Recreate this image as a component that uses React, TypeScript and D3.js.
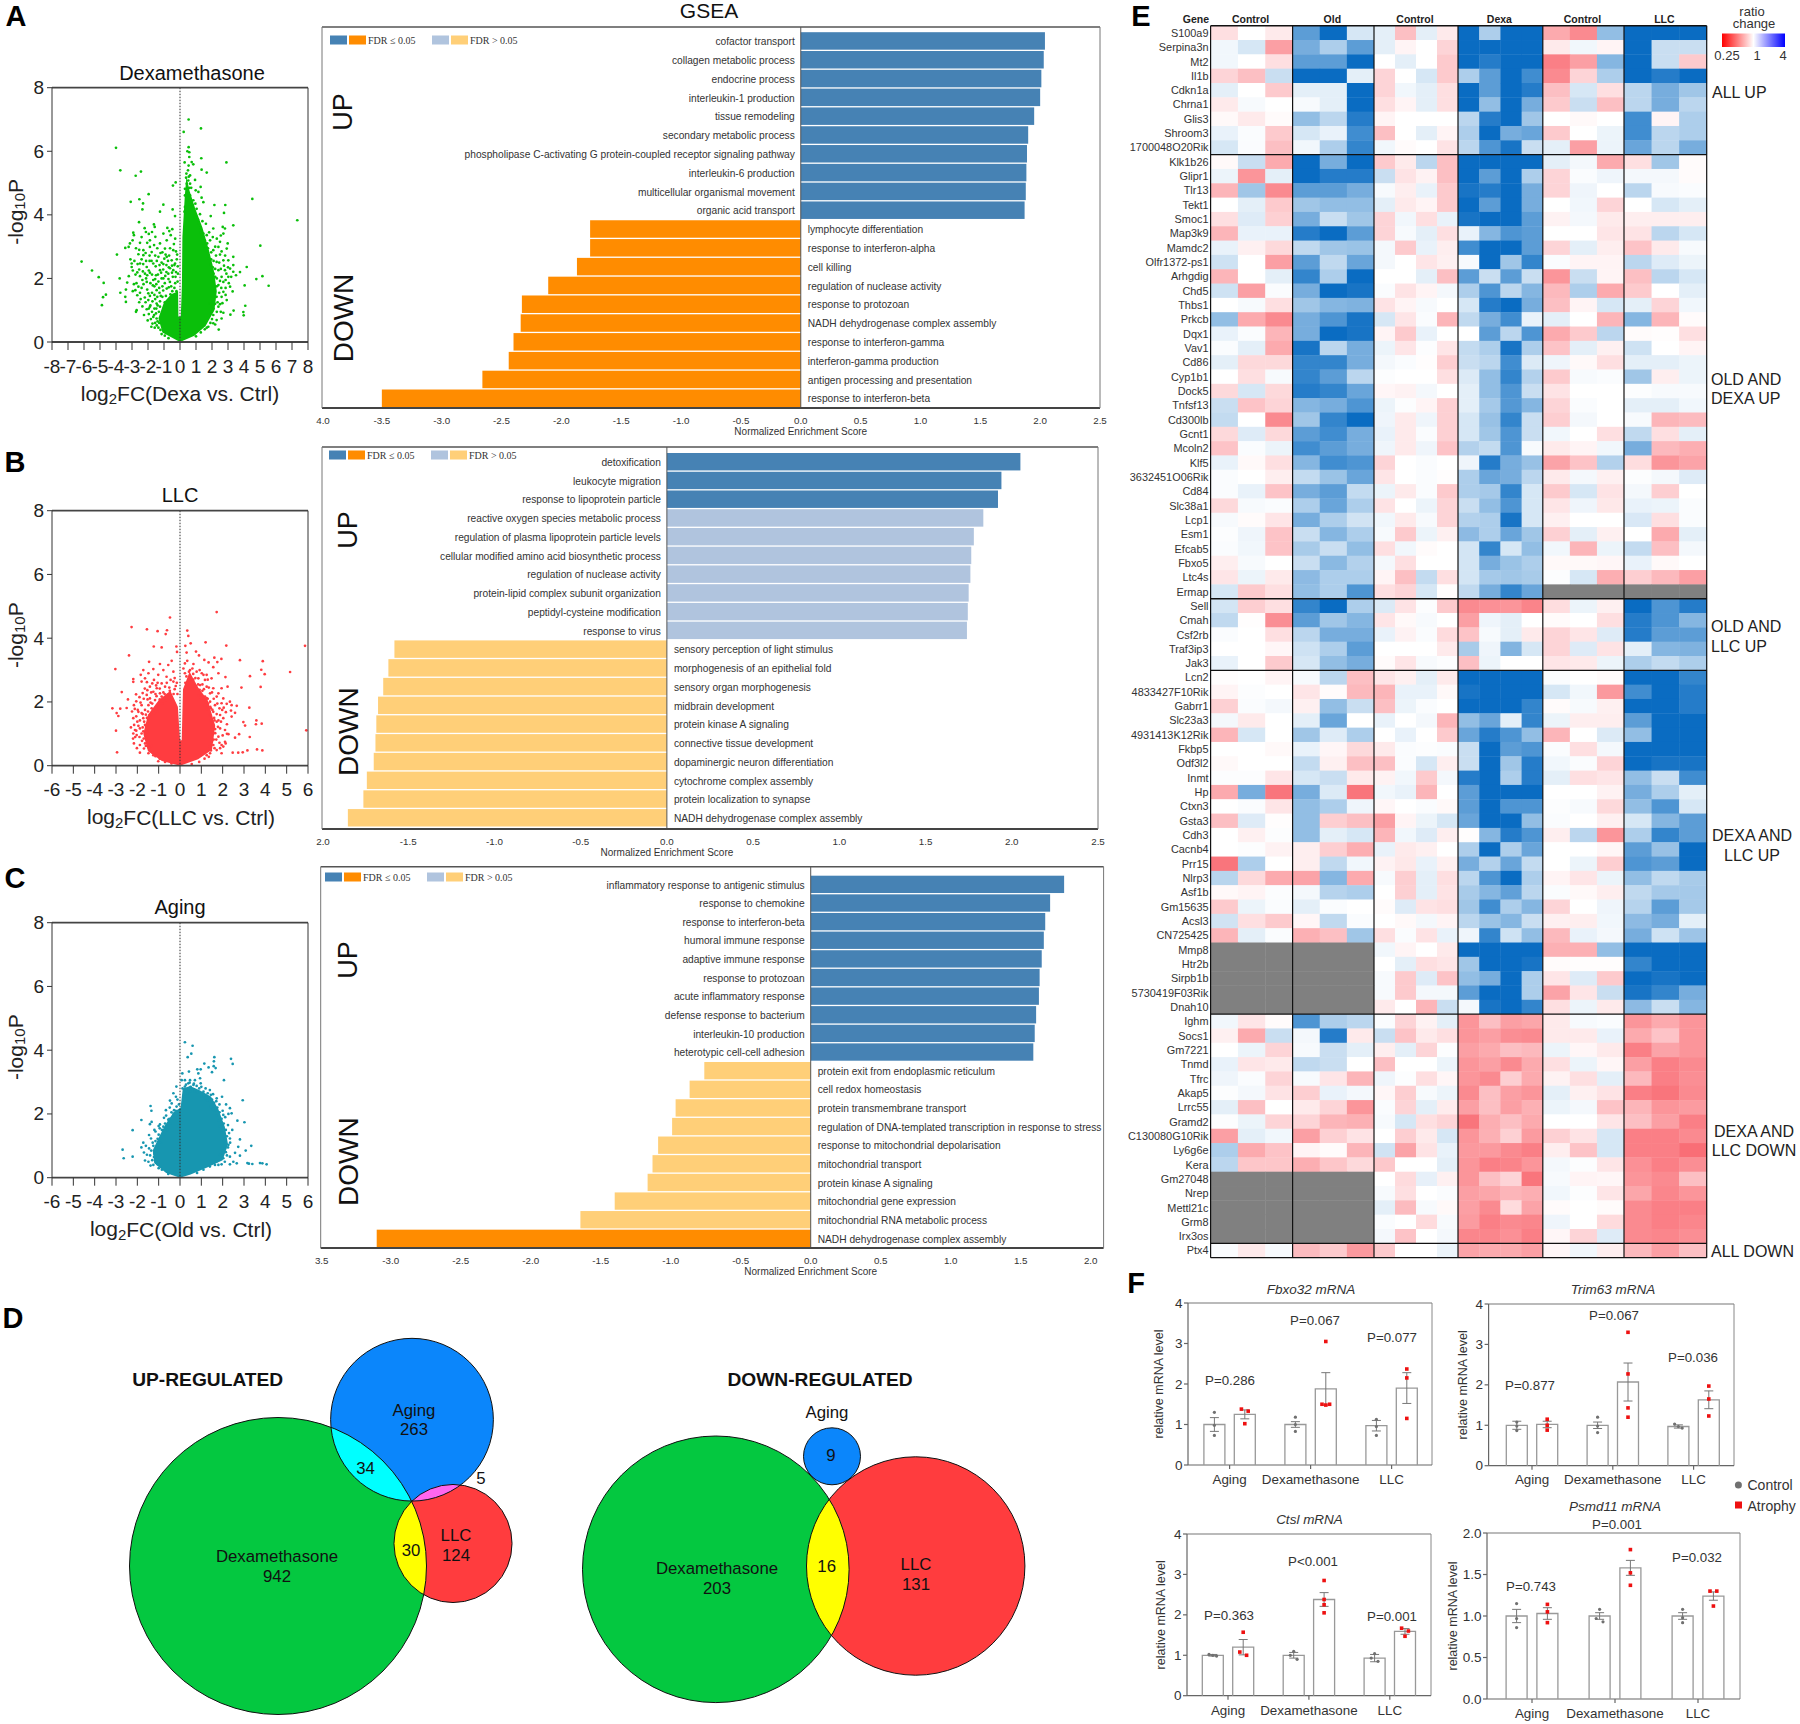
import React from "react";
import * as d3 from "d3";

const SANS = "'Liberation Sans', Arial, sans-serif";
const SERIF = "'Liberation Serif', 'Times New Roman', serif";

type P = [number, number];

// ---------- Volcano data (log2FC, -log10P) ----------
const dexaOutliers: P[] = [[.54,7.0],[1.31,6.72],[.23,6.61],[-4.0,6.11],[-3.73,5.4],[-2.44,5.36],[-2.77,5.23],[2.9,5.65],[1.33,5.78],[1.35,5.42],[1.67,5.33],[4.52,4.5],[7.33,3.83],[3.33,3.67],[5.02,3.03],[-1.96,4.65],[-3.08,4.41],[-2.54,4.49],[-2.31,4.36],[-2.35,4.17],[-1.04,4.32],[-1.25,4.1],[-.46,4.17],[-.31,3.96],[-2.56,3.77],[-.27,5.02],[-.44,4.92],[2.15,4.31],[2.83,4.31],[2.75,4.06],[1.92,3.96],[-6.15,2.53],[-5.5,2.25],[-5.08,2.04],[-4.77,1.86],[-4.63,1.49],[-4.81,1.41],[-4.88,1.16],[-3.94,2.75],[-3.77,2.0],[-3.73,1.55],[-3.38,1.65],[-3.3,1.87],[-3.2,2.07],[-3.42,1.42],[-3.38,1.26],[4.17,2.36],[3.75,2.2],[5.15,2.07],[4.77,1.98],[5.54,1.77],[4.04,1.78],[4.08,1.14],[3.96,.94],[3.98,.84],[3.35,.99],[3.15,.86],[2.42,.39]];
const dexaLeft: P[] = [[-2.21,3.58],[-1.63,3.7],[-1.58,3.62],[-.79,3.59],[-.67,3.49],[-2.92,3.44],[-2.88,3.36],[-2.13,3.46],[-1.75,3.46],[-2.96,3.2],[-3.13,3.1],[-3.21,2.99],[-3.42,2.96],[-2.5,3.12],[-1.88,3.2],[-1.54,3.31],[-1.04,3.41],[-.58,3.36],[-.38,3.08],[-.83,3.2],[-1.25,3.1],[-.94,2.94],[-1.88,2.99],[-2.29,2.89],[-2.6,2.76],[-2.29,2.73],[-1.77,2.83],[-1.35,2.68],[-.83,2.68],[-.42,2.89],[-3.02,2.47],[-3.02,2.36],[-2.5,2.47],[-2.08,2.36],[-1.67,2.47],[-1.04,2.45],[-.52,2.57],[-.31,2.47],[-2.67,2.19],[-2.5,2.07],[-2.19,2.15],[-1.88,2.18],[-1.25,2.26],[-.73,2.15],[-.42,2.26],[-2.88,1.82],[-2.6,1.74],[-2.08,1.89],[-1.67,1.95],[-1.04,2.0],[-.63,1.89],[-2.79,1.63],[-2.67,1.47],[-2.46,1.35],[-1.98,1.53],[-1.46,1.63],[-.83,1.68],[-1.98,1.32],[-1.88,1.11],[-2.08,1.03],[-1.46,1.21],[-2.71,1.0],[-2.75,.95],[-2.02,.68],[-1.46,.74],[-1.79,.48],[-1.35,.45],[-1.67,.79],[-1.25,1.11],[-.2,2.6],[-.25,2.2],[-.15,1.9],[-.3,1.85],[-.45,2.05],[-.55,1.75],[-.7,2.35],[-.85,2.2],[-.95,1.85],[-1.1,1.75],[-1.2,1.45],[-1.35,1.9],[-1.5,2.1],[-1.6,1.75],[-1.75,1.55],[-1.85,1.85],[-1.55,1.35],[-1.4,1.15],[-1.6,1.05],[-1.5,.9],[-1.75,.95],[-1.4,.65],[-1.55,.6],[-.25,2.85],[-.5,2.4],[-.75,2.55],[-.9,2.75],[-1.15,2.5],[-1.45,2.55],[-1.9,2.55],[-2.05,2.1],[-2.35,1.95],[-2.3,2.45],[-2.4,1.7],[-2.2,1.4],[-1.85,1.15],[-1.3,1.7],[-1.15,2.0],[-.6,1.5],[-.35,1.7],
[-1.42,2.95],[-1.62,3.05],[-2.05,3.12],[-2.4,3.3],[-1.95,3.4],[-1.1,2.82],[-.62,2.95],[-.3,3.25],[-.48,3.55],[-2.75,2.95],[-2.55,2.9],[-2.15,2.8],[-1.9,2.72],[-1.55,2.72],[-1.22,2.8],[-.98,2.62],[-.68,2.72],[-.18,2.75],[-3.1,2.6],[-2.85,2.55],[-2.65,2.45],[-2.4,2.6],[-2.12,2.55],[-1.78,2.55],[-1.52,2.38],[-1.28,2.42],[-1.05,2.28],[-.85,2.42],[-.62,2.32],[-.35,2.42],[-.14,2.38],[-2.95,2.25],[-2.78,2.12],[-2.55,2.28],[-2.32,2.22],[-2.12,2.0],[-1.95,2.25],[-1.75,2.12],[-1.55,1.98],[-1.38,2.12],[-1.18,2.18],[-.92,2.08],[-.72,1.98],[-.5,2.18],[-.28,2.05],[-.13,2.15],[-2.95,1.6],[-2.72,1.85],[-2.5,1.55],[-2.28,1.82],[-2.05,1.65],[-1.88,1.45],[-1.7,1.78],[-1.48,1.82],[-1.28,1.55],[-1.05,1.62],[-.88,1.45],[-.7,1.72],[-.48,1.6],[-.22,1.6],[-2.55,1.25],[-2.35,1.12],[-2.15,1.25],[-1.95,1.05],[-1.72,1.28],[-1.6,1.48],[-1.42,1.42],[-1.25,1.28],[-1.1,1.42],[-.95,1.25],[-2.25,.85],[-1.95,.88],[-1.82,.72],[-1.62,.85],[-1.48,1.05],[-1.32,.95],[-1.72,.58],[-1.58,.45],[-1.45,.52],[-1.3,.6],[-1.22,.38],[-1.15,.25],[-.95,.2],[-.72,.12]];
const dexaRight: P[] = [[1.29,3.58],[1.46,3.41],[2.08,3.57],[2.67,3.62],[2.81,3.57],[2.71,3.41],[1.67,3.36],[1.88,3.2],[2.5,3.15],[2.98,3.1],[2.4,2.99],[2.92,2.94],[2.08,2.89],[3.33,2.68],[3.02,2.57],[2.71,2.57],[3.33,2.42],[3.13,2.31],[2.29,2.52],[2.81,2.26],[2.4,2.26],[3.33,2.21],[3.5,2.1],[3.02,2.05],[2.6,2.05],[2.71,1.89],[3.13,1.74],[3.29,1.59],[2.4,1.79],[2.71,1.58],[2.29,1.42],[2.92,1.32],[2.5,1.19],[2.71,.92],[2.08,.85],[2.6,.74],[2.4,1.11],[1.77,.48],[2.08,.59],[1.67,.45],[2.29,.69],[1.88,1.21],[2.15,1.7],[2.2,2.05],[2.05,2.35],[1.95,2.6],[1.75,2.95],[1.55,3.2],[2.2,1.2],[2.0,1.45],
[1.15,3.75],[1.4,3.8],[1.62,3.72],[1.82,3.45],[2.05,3.3],[2.3,3.25],[2.55,3.35],[1.7,3.1],[2.2,3.0],[2.6,2.85],[1.55,2.95],[1.95,2.82],[2.25,2.72],[2.5,2.75],[2.82,2.72],[1.8,2.62],[2.1,2.55],[2.45,2.5],[2.75,2.4],[3.0,2.35],[1.9,2.42],[2.2,2.3],[2.55,2.3],[2.9,2.15],[3.2,2.05],[2.1,2.15],[2.3,2.0],[2.5,1.92],[2.85,1.95],[3.05,1.85],[2.08,1.9],[2.3,1.75],[2.58,1.7],[2.85,1.7],[2.15,1.55],[2.45,1.55],[2.6,1.42],[2.85,1.48],[2.12,1.32],[2.35,1.25],[2.65,1.22],[2.1,1.05],[2.3,.95],[2.55,.95],[2.0,.72],[2.2,.55],[1.9,.6],[1.55,.4],[1.3,.3],[1.0,.18],[2.0,.95],[1.95,1.2]];
const dexaColumn: P[] = [[.54,6.13],[.46,6.0],[.58,5.97],[.58,5.82],[.29,5.65],[.73,5.66],[.83,5.59],[.54,5.55],[.5,5.4],[.63,5.24],[.38,5.17],[.52,5.08],[.94,5.1],[.42,4.98],[.63,4.98],[1.29,4.88],[.31,4.82],[.58,4.85],[.98,4.77],[.31,4.61],[.63,4.61],[1.15,4.72],[1.35,4.54],[.46,4.46],[.83,4.46],[1.46,4.4],[.96,4.35],[1.04,4.19],[.31,4.25],[1.25,4.02],[1.04,3.93],[.4,5.3],[.55,5.2],[.7,4.85],[.48,4.7],[.78,4.3],[.62,4.32],[.28,4.1],[1.12,3.85],[.95,3.9],[1.3,3.45],[1.45,3.1]];
const dexaCore: P[] = [[0,0],[.9,.2],[1.6,.5],[2.15,1.0],[2.3,1.6],[2.1,2.3],[1.8,2.9],[1.4,3.6],[.95,4.2],[.6,4.75],[.4,5.2],[.3,4.6],[.22,3.9],[.15,3.3],[.12,1.8],[.05,.8],[-.1,.8],[-.12,1.6],[-.55,1.5],[-1.0,1.25],[-1.35,.75],[-1.1,.3]];

const llcOutliers: P[] = [[1.72,4.82],[-.47,4.65],[-2.27,4.35],[-1.55,4.28],[-1.05,4.22],[-.61,4.25],[-.67,4.13],[.34,4.24],[.39,4.07],[1.2,3.87],[.5,3.84],[.25,3.76],[2.17,3.77],[5.86,3.76],[-1.23,3.74],[-.86,3.71],[-.17,3.74],[-.14,3.57],[-2.39,3.46],[.75,3.58],[.31,3.55],[.89,3.46],[1.61,3.39],[1.94,3.35],[1.14,3.32],[2.81,3.31],[3.88,3.28],[1.34,3.24],[1.75,3.25],[3.81,3.01],[5.16,2.94],[-3.03,3.03],[3.97,2.87],[3.28,2.81],[2.13,2.78],[1.8,2.9],[1.56,3.09],[-2.19,2.72],[-2.19,2.63],[3.78,2.47],[2.88,2.45],[2.23,2.48],[-2.73,2.31],[-2.06,2.24],[-2.44,2.08],[-3.17,1.8],[-2.8,1.79],[-2.5,1.81],[-2.97,1.65],[-2.89,1.56],[3.25,1.82],[2.34,2.01],[2.66,1.88],[2.42,1.9],[2.19,1.94],[2.39,1.73],[2.58,1.66],[2.42,1.54],[2.97,1.37],[3.05,1.26],[3.58,1.42],[3.56,1.3],[3.83,1.32],[5.92,1.11],[3.27,.9],[2.77,.99],[2.58,.88],[2.27,.99],[-3.0,1.1],[-2.95,.42],[2.47,.41],[2.73,.41],[2.94,.42],[3.16,.48],[3.61,.51],[3.86,.48],[2.14,.7]];
const llcLeft: P[] = [[-1.45,3.26],[-.94,3.19],[-.55,3.16],[-.39,3.29],[-1.72,3.0],[-1.25,3.03],[-.78,3.0],[-.31,2.95],[-1.84,2.85],[-1.48,2.9],[-1.02,2.85],[-.63,2.79],[-.44,2.69],[-1.64,2.74],[-1.22,2.69],[-.86,2.58],[-.31,2.64],[-1.8,2.64],[-1.41,2.48],[-1.09,2.43],[-.7,2.48],[-1.53,2.37],[-1.25,2.32],[-.94,2.27],[-1.56,2.22],[-1.41,2.11],[-1.17,2.06],[-.86,2.17],[-.59,2.22],[-2.16,1.9],[-1.8,1.9],[-1.48,1.9],[-1.95,1.69],[-1.64,1.75],[-1.33,1.8],[-1.02,1.85],[-2.19,1.49],[-2.0,1.38],[-1.72,1.49],[-1.41,1.59],[-2.11,1.12],[-1.88,1.17],[-1.64,1.28],[-1.48,1.38],[-2.19,1.01],[-2.03,.96],[-1.8,1.01],[-1.56,.91],[-2.16,.7],[-1.88,.65],[-1.64,.7],[-1.48,.65],[-1.88,.41],[-1.69,.54],[-1.48,.39],[-1.25,.33],[-1.09,.39],[-1.6,1.6],[-1.75,1.2],[-1.55,1.5],[-1.7,.85],[-1.55,1.15],[-1.35,2.3],[-1.15,2.25],[-.72,2.25],[-.5,2.45],[-.25,2.4],[-1.05,2.6],[-.62,2.6],[-1.3,1.95],[-1.5,1.7],
[-.25,2.75],[-.15,2.6],[-.3,2.25],[-.5,2.1],[-.65,2.05],[-.85,1.95],[-1.05,1.7],[-1.2,1.65],[-1.35,1.6],[-1.5,1.5],[-1.6,1.25],[-1.55,1.05],[-1.62,.95],[-1.55,.8],[-1.45,.55],[-1.35,.62],[-1.15,.3],[-.95,.22],[-.7,.12],[-.4,.07],[-1.75,1.62],[-1.88,1.42],[-1.95,1.25],[-2.05,1.1],[-1.9,.9],[-1.78,.78],[-2.02,.55],[-1.98,1.75],[-1.85,1.98],[-1.7,2.1],[-1.65,2.42],[-1.75,2.28],[-1.9,2.15],[-2.05,2.02],[-1.55,2.62],[-1.3,2.58],[-1.12,2.52],[-.95,2.42],[-.78,2.3],[-.48,2.35],[-.2,2.5],[-.12,2.25],[-1.52,2.08],[-1.38,1.98],[-1.1,2.18],[-.95,2.08],[-.75,2.12],[-1.8,1.65],[-1.68,1.38],[-1.72,1.08],[-1.6,.62],[-1.3,.42],[-1.02,.14],[-2.15,1.28],[-2.2,.85],[-2.1,.9],[-2.3,1.2],[-2.05,1.55],[-2.25,1.7],[-2.12,1.78]];
const llcRight: P[] = [[.23,3.21],[.34,3.29],[.63,3.19],[.16,3.05],[.47,3.0],[.78,2.95],[1.02,2.9],[1.25,2.85],[.23,2.9],[.86,2.74],[1.17,2.69],[1.48,2.74],[.94,2.53],[1.25,2.48],[1.56,2.43],[1.95,2.43],[1.8,2.27],[1.41,2.27],[1.72,2.17],[2.03,2.11],[1.17,2.17],[1.41,2.01],[1.64,1.9],[1.95,1.96],[1.17,1.9],[1.56,1.69],[1.88,1.59],[2.03,1.49],[1.72,1.38],[1.41,1.59],[1.56,1.28],[1.88,1.17],[2.11,1.12],[1.56,1.01],[1.8,.91],[2.11,.75],[1.48,.86],[1.95,.65],[1.56,.65],[1.41,.6],[1.72,.49],[2.03,.6],[1.41,.39],[1.95,.39],[1.25,.33],[.75,2.5],[.62,2.7],[1.05,2.35],[.95,2.2],[1.3,2.1],[1.45,1.8],[1.6,1.5],[1.65,1.15],[1.5,.75],
[.25,2.6],[.3,2.8],[.42,2.95],[.62,2.88],[.72,2.75],[.85,2.55],[.92,2.38],[1.05,2.55],[1.12,2.4],[.88,2.2],[1.0,2.1],[1.25,2.12],[1.32,1.95],[1.25,1.78],[1.42,1.85],[1.52,1.75],[1.45,1.42],[1.5,1.2],[1.62,1.42],[1.72,1.62],[1.8,1.42],[1.78,1.22],[1.65,1.02],[1.7,.82],[1.58,.82],[1.62,.55],[1.45,.48],[1.35,.28],[1.15,.22],[.9,.12],[.55,.05],[1.92,1.38],[1.98,1.75],[1.85,1.8],[1.75,1.95],[1.58,2.1],[1.5,2.3],[1.35,2.45],[1.3,2.7],[1.1,2.85],[.92,3.0],[.58,3.05],[2.0,.95],[1.85,.72],[1.88,.55],[2.2,1.0],[2.2,1.3],[2.15,1.68],[2.05,1.82]];
const llcCore: P[] = [[0,0],[-.85,.15],[-1.5,.45],[-1.72,1.0],[-1.5,1.6],[-1.0,2.05],[-.45,2.35],[-.1,1.85],[0,.8],[.08,.8],[.14,2.4],[.45,2.95],[.85,2.45],[1.3,2.05],[1.65,1.25],[1.5,.5],[.85,.2]];

const oldOutliers: P[] = [[.23,4.25],[.59,4.14],[.53,3.89],[.36,3.78],[1.61,3.78],[1.59,3.65],[2.39,3.73],[2.47,3.57],[1.14,3.58],[1.58,3.5],[1.67,3.44],[1.34,3.46],[1.5,3.31],[.81,3.4],[.97,3.4],[.42,3.33],[.11,3.27],[.86,3.27],[2.06,3.06],[-.17,2.86],[.08,3.06],[.23,3.06],[.47,3.06],[.7,3.06],[.39,2.96],[.63,2.91],[.94,3.12],[.97,2.96],[.23,2.86],[-.31,2.65],[-.19,2.54],[-.47,2.42],[-.39,2.33],[-1.38,2.25],[-1.34,2.1],[-.66,2.12],[-.28,2.12],[-.16,2.23],[-1.81,1.81],[-1.33,1.75],[-1.41,1.68],[-2.22,1.49],[-2.69,.88],[-2.64,.61],[-2.22,.66],[-1.64,.54],[-1.81,.95],[-1.72,1.1],[-1.69,.79],[-1.45,1.34],[-1.36,1.23],[-1.2,1.5],[-.94,1.67],[2.94,2.43],[1.97,2.54],[1.72,2.49],[2.16,2.3],[2.34,2.18],[2.42,2.02],[2.27,2.0],[2.03,1.97],[2.69,1.79],[3.02,1.74],[2.45,1.5],[2.81,1.2],[3.34,1.0],[3.08,.85],[2.73,.97],[2.34,1.23],[2.27,1.03],[2.58,.78],[2.81,.69],[2.34,.66],[2.5,.5],[2.66,.45],[2.34,.42],[3.16,.46],[3.23,.44],[3.39,.43],[3.75,.46],[3.86,.45],[4.06,.42],[1.88,.71],[2.11,.92],[2.03,.61],[1.8,.4],[1.64,.4]];
const oldFringe: P[] = [[.9,2.8],[1.1,2.7],[1.3,2.65],[1.45,2.6],[1.5,2.45],[1.6,2.35],[1.75,2.2],[1.85,2.05],[1.95,1.85],[2.05,1.7],[2.15,1.5],[2.2,1.3],[2.25,.95],[2.15,.8],[.5,2.85],[.65,2.95],[.3,2.75],[-.5,1.85],[-.7,1.7],[-.85,1.5],[-1.0,1.35],[-1.15,1.15],[-1.25,1.0],[-1.35,.85],[-1.4,.7],[-1.3,.55],[-1.25,.4],[-1.0,.3],[-1.2,.75],[-.95,1.55],[-.65,1.95],[-.4,2.05],
[-.45,1.7],[-.6,1.5],[-.75,1.35],[-.9,1.1],[-1.05,1.0],[-1.15,.85],[-1.22,.65],[-1.15,.5],[-1.05,.42],[-.85,.25],[-.55,.12],[-.3,2.0],[-.2,2.1],[-.55,1.82],[-.78,1.6],[-1.05,1.22],[-1.28,1.1],[-1.45,.92],[-1.55,.72],[-1.48,.5],[-1.38,.38],[-1.6,1.0],[-1.15,1.45],[-1.0,1.62],[-.75,1.88],[-.48,2.2],[-.12,2.45],[-.05,2.3],
[.2,2.55],[.35,2.65],[.5,2.72],[.68,2.72],[.82,2.68],[1.0,2.55],[1.18,2.5],[1.28,2.42],[1.45,2.22],[1.55,2.15],[1.65,2.1],[1.72,1.95],[1.82,1.8],[1.85,1.6],[1.95,1.42],[2.05,1.25],[2.12,1.1],[2.0,.85],[1.92,.68],[1.7,.5],[1.4,.35],[1.1,.25],[.8,.15],[.12,2.8],[.28,2.92],[.45,2.98],[.78,2.88],[1.0,2.85],[1.2,2.8],[1.4,2.75],[1.55,2.62],[1.7,2.4],[1.85,2.3],[2.0,2.1],[2.12,1.9],[2.25,1.65],[2.3,1.4],[2.35,1.1],[2.2,.7],[2.1,.5],[1.95,.42]];
const oldCore: P[] = [[0,0],[-.65,.15],[-1.2,.45],[-1.28,.85],[-1.0,1.25],[-.7,1.65],[-.3,2.05],[.03,2.2],[.13,2.8],[.47,2.88],[.9,2.75],[1.45,2.55],[1.8,2.15],[2.1,1.6],[2.25,1.05],[2.0,.55],[1.3,.33],[.5,.1]];

// ---------- GSEA data ----------
const dexaUpTerms = ["cofactor transport","collagen metabolic process","endocrine process","interleukin-1 production","tissue remodeling","secondary metabolic process","phospholipase C-activating G protein-coupled receptor signaling pathway","interleukin-6 production","multicellular organismal movement","organic acid transport"];
const dexaUpNES = [2.04,2.03,2.01,2.0,1.95,1.9,1.89,1.885,1.88,1.87];
const dexaDownTerms = ["lymphocyte differentiation","response to interferon-alpha","cell killing","regulation of nuclease activity","response to protozoan","NADH dehydrogenase complex assembly","response to interferon-gamma","interferon-gamma production","antigen processing and presentation","response to interferon-beta"];
const dexaDownNES = [-1.76,-1.76,-1.87,-2.11,-2.33,-2.34,-2.4,-2.44,-2.66,-3.5];
const dexaSignificant = [1,1,1,1,1,1,1,1,1,1,1,1,1,1,1,1,1,1,1,1];

const llcUpTerms = ["detoxification","leukocyte migration","response to lipoprotein particle","reactive oxygen species metabolic process","regulation of plasma lipoprotein particle levels","cellular modified amino acid biosynthetic process","regulation of nuclease activity","protein-lipid complex subunit organization","peptidyl-cysteine modification","response to virus"];
const llcUpNES = [2.05,1.94,1.92,1.835,1.78,1.765,1.76,1.75,1.745,1.74];
const llcDownTerms = ["sensory perception of light stimulus","morphogenesis of an epithelial fold","sensory organ morphogenesis","midbrain development","protein kinase A signaling","connective tissue development","dopaminergic neuron differentiation","cytochrome complex assembly","protein localization to synapse","NADH dehydrogenase complex assembly"];
const llcDownNES = [-1.58,-1.615,-1.645,-1.675,-1.685,-1.69,-1.7,-1.74,-1.76,-1.85];
const llcSignificant = [1,1,1,0,0,0,0,0,0,0,0,0,0,0,0,0,0,0,0,0];

const agingUpTerms = ["inflammatory response to antigenic stimulus","response to chemokine","response to interferon-beta","humoral immune response","adaptive immune response","response to protozoan","acute inflammatory response","defense response to bacterium","interleukin-10 production","heterotypic cell-cell adhesion"];
const agingUpNES = [1.81,1.71,1.675,1.665,1.65,1.635,1.63,1.61,1.6,1.59];
const agingDownTerms = ["protein exit from endoplasmic reticulum","cell redox homeostasis","protein transmembrane transport","regulation of DNA-templated transcription in response to stress","response to mitochondrial depolarisation","mitochondrial transport","protein kinase A signaling","mitochondrial gene expression","mitochondrial RNA metabolic process","NADH dehydrogenase complex assembly"];
const agingDownNES = [-.76,-.865,-.965,-.99,-1.09,-1.13,-1.165,-1.4,-1.645,-3.1];
const agingSignificant = [1,1,1,1,1,1,1,1,1,1,0,0,0,0,0,0,0,0,0,1];

// ---------- Heatmap data (signed strength of change; null = no data) ----------
const N = null;
const NA6 = [N,N,N,N,N,N];
const allUpGenes = ["S100a9","Serpina3n","Mt2","Il1b","Cdkn1a","Chrna1","Glis3","Shroom3","1700048O20Rik"];
const allUpRows = [
[-1.5,0,-1,6,9,1.5,1,-3,1,-1,9,3,9,9,-4,-5.5,4,9,9,9],
[.5,1.5,-4.5,5,3,6,1,-.5,0,-2,9,9,9,9,-1,.5,-.5,9,2,2],
[.5,0,-1.5,6,6,9,0,1,0,-2.5,9,8,9,9,-6,-4.5,4.5,9,2,-2.5],
[-2,-3,2,9,9,1,-2,0,1.5,-2.5,3,6,9,7,-5.5,-2,3,9,8,9],
[1,0,-2.5,1,1,9,-2,.5,1,-1.5,9,6,9,8,-3,1.5,-1.5,2.5,5,3.5],
[-1,.3,0,.3,1,9,-1.5,-.5,1,-1.5,9,4,9,5,-2.5,2,-3,2.5,5,2.5],
[-.3,-1,-.2,4,2.5,8,-.5,0,0,0,2.5,8,9,3.5,0,-.3,0,7,-.5,3],
[.8,.2,-2.5,1.5,.8,7,-3,0,1,-.5,3,9,5,5.5,-2.5,0,.7,7,2.5,3],
[1.5,.2,-3,.5,3,7.5,.5,-.2,0,-1.3,2.5,6.5,8.5,2,1,-4.5,.7,5.5,2.5,5],
];
const oldDexaGenes = ["Klk1b26","Glipr1","Tlr13","Tekt1","Smoc1","Map3k9","Mamdc2","Olfr1372-ps1","Arhgdig","Chd5","Thbs1","Prkcb","Dqx1","Vav1","Cd86","Cyp1b1","Dock5","Tnfsf13","Cd300lb","Gcnt1","Mcoln2","Klf5","3632451O06Rik","Cd84","Slc38a1","Lcp1","Esm1","Efcab5","Fbxo5","Ltc4s","Ermap"];
const oldDexaRows = [
[-.3,2,-4,9,5,9,-2.5,-1,2.5,-3,9,9,9,9,1,.4,-4,-1.5,3.5,-.2],
[.7,-5,1,9,8,8,2,-1.3,-.6,-3,9,6,9,3,-2,.2,.6,.4,.4,-.2],
[-3.5,3.5,-5.5,6,6,5,.3,-.8,.8,-2.5,8.5,8,9,5,-2,.6,0,2.5,.3,.2],
[0,1,-2.5,3.5,4,4,1,-1,-.5,-2.5,9,6,9,5,0,.5,-2,0,1.5,1],
[-1.5,1.2,-2.2,5,2,3.5,-2,.5,-1.5,.8,8.5,9,9,6,-.6,.4,-1,-.8,-.8,-.8],
[-3.5,.8,.8,8,9,6,-2,.3,1,-1.5,.8,4.5,6.5,6,0,0,-1.2,-1.3,2.5,1.5],
[.8,-.7,-1.8,2.3,3.5,3.7,.4,-2.5,.8,-.8,7,9,9,6,-2,1,-.8,-2.8,-1,.3],
[1.8,0,-4.5,6,2.3,5.5,.4,0,-1.2,-.7,.3,9,3.5,7.5,.2,-.5,-.5,2.5,1.2,.7],
[-3.5,0,1,7.5,3,9,0,0,1,-3,6,2,6,2,-5,2,-.5,-3,2.5,1.5],
[1.8,-4.5,.2,5,9,8.5,.2,-1.3,-.5,.4,3,6.5,2.5,4.5,-3.3,3,-4,-2.5,0,1],
[0,.3,-1.5,3.5,4.5,4.7,-1.3,-.5,.3,0,1.5,8,9,5,-3,-.5,1.5,1,-2,.5],
[4,-4,-5.5,5,6.5,8.5,1.5,-1.2,.2,-3.5,2.3,5,7,.8,1,0,-3.5,4.5,-3.5,-.2],
[.8,.2,-3.5,5,9,8.5,-.5,-2.5,.8,0,0,6,2.5,6.5,-4,-2.5,2.5,-.2,-.1,-1.5],
[.2,1,-4,8.5,2.5,5,.7,-1.2,.1,-1.2,2.2,3,8.5,3,-2.8,1,-.7,1.8,0,-.5],
[1,-1.8,-1.8,7.5,7.5,5,.4,.2,-.1,-2.3,2,2.5,7,1.3,.6,-.3,-1.5,1,1,.7],
[0,-1.5,.3,7.5,6,2.5,.1,0,0,-1.5,1.3,4,7.5,2.8,-2.5,.3,.2,3.5,-.8,.7],
[-1.8,1.5,-1.8,8,7.5,5.5,-.4,-.6,.4,0,1,4,6.5,2,-1.3,0,0,.1,.3,.3],
[2,-2.8,-2,4.5,5,6.5,.7,.1,-.5,-2.2,1,3.3,6.3,4.5,-2,.2,0,1,1,.5],
[2.2,0,-5.5,3.5,7.5,9,.6,-1,.6,-2.2,1.5,3.8,7.5,2,-2.3,.4,0,.3,-3.5,-3.2],
[-1.8,1.2,-1.8,6,7,5,.8,-1,.2,-2.2,1.5,3.5,6.5,2,.5,0,-1.5,2.3,-1.5,1],
[-2.8,.2,.7,7,6,5,.6,-1,.6,-2.8,2.8,2.2,6.5,.3,-1,-.5,.5,5,-3.3,-3.8],
[.8,-.3,-1.5,4.5,7,6.5,-2,0,.2,0,.6,8,5,3.8,-4.3,-2.8,2.8,-1.6,-5,-4.3],
[.2,0,-.8,2.2,3.7,5.5,-1.2,0,.2,-.1,3,5.5,5,2.5,-1,.4,-.7,.1,.4,1.2],
[.2,.8,-2.8,5,6,2.2,.7,-1,.2,-2.5,3,3.3,7.5,1.5,-2.5,1.5,-1.3,.4,-2.3,0],
[-1.8,.3,.2,3,5.5,3,-1.3,0,.7,-2,2,4,6.5,1.5,-1.2,.6,-1.1,.8,.7,.2],
[.3,-.2,-1.2,5,3,1.7,.5,-1,.3,-2,2.8,3,8.5,1.5,-.7,0,0,1.4,-1.5,.2],
[.1,.6,-2.8,2,4.5,3,.3,-2.5,.7,-.7,4.2,3,5.5,3.5,-2.2,1,-.7,0,-4,1],
[.2,.5,-2.8,3.2,2,4,-1.5,.5,-.2,0,1.6,7.5,1.5,4,.5,-3.5,.7,2.2,-3,.4],
[-.8,.3,0,2,4.3,2.8,.4,-1.5,0,0,1.6,5,3.7,3,-.3,-.3,-.4,.8,-.3,0],
[-1.2,.7,-1,4.2,3,3,-.5,-3,2.2,-1.5,1.6,3.3,3.5,3.2,.1,1.5,-3.8,-2.3,-3.3,-4.5],
[1.5,-2.5,-1.5,4,3,6.5,-1.5,-2,1.5,-.1,2.3,5,7.5,5.5,N,N,N,N,N,N],
];
const oldLlcGenes = ["Sell","Cmah","Csf2rb","Traf3ip3","Jak3"];
const oldLlcRows = [
[1.6,-2.3,-1.5,7.5,9,3,1.3,-1.3,.1,-2.5,-5.5,-5.2,-5,-5.8,-1.6,.7,-.7,9,6.5,8],
[2.3,-.1,-5.3,6,3.5,4.5,-1.2,-.3,.3,0,-4.5,.6,1,0,-.2,0,-1.5,8,6.5,4.5],
[.2,0,-1.5,2.5,5,5,.8,-.6,.2,-1.7,-2.8,.3,1,-1,-2,-1.2,1.2,8,6,6],
[0,0,-.4,1.8,3,6,0,0,0,-1,3.2,.6,4.6,1.5,-2,1.2,-1.3,1,4.5,4.7],
[.8,0,-2.5,1.5,4,5,-.2,-1.2,.3,.1,-3,.7,0,0,-1.2,-1,.7,3,2.2,3],
];
const dexaLlcUpGenes = ["Lcn2","4833427F10Rik","Gabrr1","Slc23a3","4931413K12Rik","Fkbp5","Odf3l2","Inmt","Hp","Ctxn3","Gsta3","Cdh3","Cacnb4","Prr15","Nlrp3","Asf1b","Gm15635","Acsl3","CN725425","Mmp8","Htr2b","Sirpb1b","5730419F03Rik","Dnah10"];
const dexaLlcUpRows = [
[-.1,0,-.5,.3,2.5,-3,-1.2,-.7,1,-1,9,9,9,9,.2,0,-.2,9,9,7.5],
[-.5,.1,0,-1.2,-.2,-3.3,-3.5,.8,.8,-.3,8.5,9,9,9,1.5,.5,-4.8,7,9,8],
[-2.2,.2,.4,-.7,4,2,-3,.7,.2,0,9,9,9,7.5,-.2,.3,-.7,9,9,8],
[.4,-1,0,1,5.5,0,.8,0,.4,-3.5,4,5.5,1,7.5,.7,-.8,-.8,6,9,9],
[-3.5,1.5,0,3.5,1.2,3,0,.8,0,-2.5,5.5,8,6.5,4,-3.5,0,1.3,4,9,9],
[0,0,-.3,.8,-.4,-1.8,-1,.2,.1,.2,2,9,6,6.5,.2,-1.5,.4,9,9,9],
[-.3,0,0,2.2,-.7,-3,-3,.2,1.5,-.8,2,9,3.5,8,.5,.2,-2,9,8.5,8.5],
[.1,.1,-1.2,1.5,2,-1,-.6,.5,-2.5,.4,8,9,3,8,1,-1.5,-1.2,4,2,7],
[-4,5,-6.5,5,1.3,-6.5,.5,.8,-3.5,0,6,9,9,9,0,0,-.6,5,3,1],
[0,.2,-1.2,4,3,.6,-.4,0,.2,-.3,6,9,6.5,6.5,.1,.3,-1.8,4,6.5,1.5],
[-3,1.2,-.1,4,-2.3,-3,-4.5,-.5,.7,1.5,5.5,9,9,4,.2,0,-.7,1.5,4.5,6],
[0,-.7,.1,4,1,1.5,-3.5,.5,1.2,-.8,-.1,4.5,8,6.5,-.8,2.5,-5,3,7.5,6],
[0,.1,-.6,-.8,-2.3,-3.8,.8,-1,-.7,0,3,9,3,5.5,0,0,-.4,6,3.8,9],
[-6.5,3,0,-.8,2.3,.5,-.6,-1.1,.8,-.7,5,2.8,5.5,2.2,0,.7,-2.3,6.5,6,9],
[2.6,-1.8,-4,-4.3,4.5,-4,.3,-2.3,1,-1.5,2.5,6.5,9,3,-.5,-1.2,.7,4,2.3,3.2],
[-.3,-.5,.1,.4,2.7,3,0,-2.2,1,-1.3,3.2,4.5,5.8,2.5,.2,-.3,-.8,2.3,3.3,3.3],
[-2.5,.7,.2,1,.2,0,-.2,1.2,-1.3,-1.5,3.5,7,3,4.5,-2,0,.6,2.7,6,3.3],
[1.7,-1.5,-2.5,-.4,2.3,.2,0,-.3,.4,-.5,2.5,3.7,4.5,2,-.7,-.8,.5,4.2,5,1],
[-3.5,1,.2,-3.7,-3,3.5,-1.5,.2,-1.3,.8,.6,7.5,1.8,4,-3.3,.8,.4,5,1.8,3.6],
[...NA6,.5,-.5,0,-1,9,9,9,9,-3.7,-3.7,4,9,9,9],
[...NA6,0,1,-1.5,-1.2,3.5,9,9,8.5,-.2,-.1,-.1,7.5,9,9],
[...NA6,.3,-2.5,1.2,-2.8,4,5,9,3,-1.2,1.2,-2.5,9,8.5,9],
[...NA6,.3,-2.5,.4,.4,6,9,9,3,-4.3,-1.2,2,8.5,7.5,5],
[...NA6,-1,0,-3.5,2,.4,8.5,9,7.5,-1.5,.7,-1,4.2,2,4.5],
];
const dexaLlcDownGenes = ["Ighm","Socs1","Gm7221","Tnmd","Tfrc","Akap5","Lrrc55","Gramd2","C130080G10Rik","Ly6g6e","Kera","Gm27048","Nrep","Mettl21c","Grm8","Irx3os"];
const dexaLlcDownRows = [
[.5,-1.2,-.2,6.5,3,2.5,.2,-2,-.6,1,-5,-3,-4.5,-4.2,-1,.3,.2,-5,-4,-5],
[-.7,-4,2,.4,8,-1,2,-2.8,-1,-1.5,-5,-4.5,-5.3,-5.5,-1,-1,.8,-4,-2.8,-5],
[0,.7,-2,.3,2,1,-.8,1,-2,.1,-4.5,-4,-3,-3.3,.7,-.4,-1,-6,-4.3,-5],
[.8,-1.2,-1,2.3,2,0,-3,0,0,.7,-5,-4.5,-5.5,-4,-1.5,.7,-.4,-4.5,-6,-5.5],
[.6,.2,-2,.3,-1.2,-3.5,.6,.1,-1.5,-.4,-5,-5.5,-2.3,-4,-.6,-1.5,1,-3.3,-6,-5.3],
[.1,.4,-1.3,-2.3,.8,.4,-.4,-2.3,.3,.7,-5.5,-3,-4.5,-5,1,-.7,-1.3,-6,-6.5,-5.5],
[1,-3,0,-1,-2,-5,.2,-2,1,-.9,-4.5,-3,-4.5,-3.7,.7,.4,-2.8,-3.5,-5,-4.7],
[.1,.7,-2,-2,-3.5,-3.7,.3,1.5,-1.5,-2,-6.5,-3.8,-3,-4,0,0,-1.2,-3,-4.5,-6],
[-4.5,1,.5,-4.5,-2.2,-1.3,0,-2.3,-1,1.5,-5,-3.7,-2.2,-4.7,-2.2,-1.3,1.5,-6,-6,-5.5],
[3,-4,-2.8,-.5,-.2,-3.5,1.7,-4.3,-1.3,.8,-4.8,-4.8,-5.5,-6,-.8,-2.8,1.5,-6,-6,-6.8],
[2.5,-2.7,-2.7,-3.8,-2.7,-1.8,-2.6,0,0,1,-5,-6,-5.8,-5,.4,.1,-1.2,-5.2,-6,-5.3],
[...NA6,0,-1.7,.9,-.7,-5,-3,-2,-6.5,.3,-.5,-.4,-5,-5.5,-3],
[...NA6,.3,-1.5,0,.2,-4.5,-4.2,-3.5,-3.8,.5,.1,-1.2,-4.2,-5.7,-5],
[...NA6,1,-3.2,.3,-.3,-4.5,-5.5,-1.7,-4.3,-.2,0,-.2,-5.5,-6,-6],
[...NA6,.2,0,-1.7,.3,-4.7,-6,-5.5,-5.7,.6,0,-1.7,-5.5,-6,-5.7],
[...NA6,.4,-2.8,0,.4,-5.7,-5.7,-5.2,-6,-.4,-2,1.2,-5.5,-5.7,-5.3],
];
const allDownGenes = ["Ptx4"];
const allDownRows = [[.2,-1,.3,-3.2,-2.5,-4.8,-2.5,0,0,.7,-4.3,-4,-4,-4.5,-.4,.5,-.8,-3.3,-4.5,-3]];

const heatGroups = ["Control","Old","Control","Dexa","Control","LLC"];
const heatGroupSizes = [3,3,4,4,3,3];

// ---------- qPCR data ----------
const qpcrCategories = ["Aging","Dexamethasone","LLC"];
const fbxoMeans = [1.0,1.25,1.0,1.88,.97,1.9];
const fbxoErr = [.17,.11,.07,.4,.13,.38];
const fbxoDots = [[1.3,.98,.73],[1.38,1.33,1.02],[1.18,1.0,.83],[3.05,1.5,1.48,1.5],[1.13,.95,.73],[2.37,2.15,1.15]];
const fbxoP = ["P=0.286","P=0.067","P=0.077"];
const trimMeans = [1.0,1.02,1.0,2.07,.97,1.63];
const trimErr = [.1,.08,.08,.47,.04,.22];
const trimDots = [[1.08,.98,.87],[1.15,1.0,.88],[1.2,.98,.82],[3.3,2.27,1.43,1.2],[1.03,.97,.93],[1.97,1.65,1.23]];
const trimP = ["P=0.877","P=0.067","P=0.036"];
const ctslMeans = [1.0,1.2,1.0,2.38,.93,1.59];
const ctslErr = [.02,.19,.07,.17,.09,.07];
const ctslDots = [[1.02,1.0,.98],[1.57,1.08,1.0],[1.1,1.0,.9],[2.85,2.38,2.25,2.05],[1.04,.93,.85],[1.67,1.6,1.47]];
const ctslP = ["P=0.363","P<0.001","P=0.001"];
const psmdMeans = [1.0,1.03,1.0,1.58,1.0,1.24];
const psmdErr = [.08,.07,.04,.09,.04,.05];
const psmdDots = [[1.15,.97,.86],[1.14,1.05,.92],[1.08,.97,.93],[1.8,1.52,1.37],[1.08,.98,.92],[1.3,1.3,1.12]];
const psmdP = ["P=0.743","P=0.001","P=0.032"];

// ---------- Venn data ----------
const vennUpTotals = { dexa: 1006, aging: 302, llc: 159 };
const vennDownTotals = { dexa: 219, aging: 10, llc: 147 };

// ---------- Components ----------
function Volcano({ left, right, top, bottom, xMax, color, title, titleX, titleY, xTitle, core, dots, xTitleX }: any) {
  const x = d3.scaleLinear().domain([-xMax, xMax]).range([left, right]);
  const y = d3.scaleLinear().domain([0, 8]).range([bottom, top]);
  const line = d3.line<P>().x(d => x(d[0])).y(d => y(d[1]));
  const xt = d3.range(-xMax, xMax + 1);
  return (
    <g fontFamily={SANS}>
      <text x={titleX} y={titleY} textAnchor="middle" dominantBaseline="central" fontSize={20} fill="#111">{title}</text>
      <path d={line(core) + "Z"} fill={color} />
      {dots.map((d: P, i: number) => <circle key={i} cx={x(d[0])} cy={y(d[1])} r={1.35} fill={color} />)}
      <line x1={x(0)} x2={x(0)} y1={top} y2={bottom} stroke="#333" strokeWidth={1} strokeDasharray="1.5,1.5" />
      <line x1={left} x2={right} y1={top} y2={top} stroke="#444" strokeWidth={1.8} />
      <line x1={left} x2={right} y1={bottom} y2={bottom} stroke="#444" strokeWidth={1.8} />
      <line x1={left} x2={left} y1={top} y2={bottom} stroke="#333" strokeWidth={1} />
      <line x1={right} x2={right} y1={top} y2={bottom} stroke="#333" strokeWidth={1} />
      {xt.map(t => (
        <g key={t}>
          <line x1={x(t)} x2={x(t)} y1={bottom} y2={bottom + 8} stroke="#333" />
          <text x={x(t)} y={bottom + 24} textAnchor="middle" dominantBaseline="central" fontSize={19} fill="#222">{t}</text>
        </g>
      ))}
      {[0, 2, 4, 6, 8].map(t => (
        <g key={t}>
          <line x1={left - 5} x2={left} y1={y(t)} y2={y(t)} stroke="#333" />
          <text x={left - 8} y={y(t)} textAnchor="end" dominantBaseline="central" fontSize={19} fill="#222">{t}</text>
        </g>
      ))}
      <text x={xTitleX} y={bottom + 51} textAnchor="middle" dominantBaseline="central" fontSize={21} fill="#222">
        log<tspan dy={5} fontSize={15}>2</tspan><tspan dy={-5}>FC({xTitle})</tspan>
      </text>
      <text transform={`translate(15,${(top + bottom) / 2 - 3}) rotate(-90)`} textAnchor="middle" dominantBaseline="central" fontSize={21} fill="#222">
        -log<tspan dy={4} fontSize={15}>10</tspan><tspan dy={-4}>P</tspan>
      </text>
    </g>
  );
}

const darkBlue = "#4682b4", lightBlue = "#b0c4de", darkOrange = "#ff8c00", lightOrange = "#ffcf78";

function Gsea({ left, right, top, bottom, domain, ticks, tickLabels, barTop, barBottom, upTerms, upNES, downTerms, downNES, sig, legendX, legendY, upX, upY, downY }: any) {
  const x = d3.scaleLinear().domain(domain).range([left, right]);
  const terms = [...upTerms.map((t: string, i: number) => `u${i}`), ...downTerms.map((t: string, i: number) => `d${i}`)];
  const band = d3.scaleBand().domain(terms).range([barTop, barBottom]).paddingInner(0.07);
  const values = [...upNES, ...downNES];
  const labels = [...upTerms, ...downTerms];
  return (
    <g fontFamily={SANS}>
      {terms.map((k, i) => {
        const v = values[i];
        const fill = v > 0 ? (sig[i] ? darkBlue : lightBlue) : (sig[i] ? darkOrange : lightOrange);
        return <rect key={k} x={Math.min(x(v), x(0))} y={band(k)} width={Math.abs(x(v) - x(0))} height={band.bandwidth()} fill={fill} />;
      })}
      {terms.map((k, i) => (
        <text key={k} x={x(0) + (values[i] > 0 ? -6 : 7)} y={band(k)! + band.bandwidth() / 2 + .7} textAnchor={values[i] > 0 ? "end" : "start"} dominantBaseline="central" fontSize={10.2} fill="#333">{labels[i]}</text>
      ))}
      <line x1={x(0)} x2={x(0)} y1={top} y2={bottom} stroke="#555" strokeWidth={1} />
      <line x1={left} x2={right} y1={top} y2={top} stroke="#555" strokeWidth={1.6} />
      <line x1={left} x2={right} y1={bottom} y2={bottom} stroke="#444" strokeWidth={2} />
      <line x1={left} x2={left} y1={top} y2={bottom} stroke="#777" strokeWidth={1} />
      <line x1={right} x2={right} y1={top} y2={bottom} stroke="#777" strokeWidth={1} />
      {ticks.map((t: number, i: number) => (
        <text key={t} x={x(t) + (i === 0 ? 1 : 0)} y={bottom + 12} textAnchor="middle" dominantBaseline="central" fontSize={9.8} fill="#333">{tickLabels[i]}</text>
      ))}
      <text x={x(0)} y={bottom + 23} textAnchor="middle" dominantBaseline="central" fontSize={10} fill="#333">Normalized Enrichment Score</text>
      <rect x={legendX} y={legendY - 4.5} width={17} height={9} fill={darkBlue} />
      <rect x={legendX + 19} y={legendY - 4.5} width={17} height={9} fill={darkOrange} />
      <text x={legendX + 38} y={legendY} dominantBaseline="central" fontSize={10} fontFamily={SERIF} fill="#333">FDR ≤ 0.05</text>
      <rect x={legendX + 102} y={legendY - 4.5} width={17} height={9} fill={lightBlue} />
      <rect x={legendX + 121} y={legendY - 4.5} width={17} height={9} fill={lightOrange} />
      <text x={legendX + 140} y={legendY} dominantBaseline="central" fontSize={10} fontFamily={SERIF} fill="#333">FDR &gt; 0.05</text>
      <text transform={`translate(${upX},${upY}) rotate(-90)`} textAnchor="middle" dominantBaseline="central" fontSize={27} fill="#111">UP</text>
      <text transform={`translate(${upX},${downY}) rotate(-90)`} textAnchor="middle" dominantBaseline="central" fontSize={28} fill="#111">DOWN</text>
    </g>
  );
}

const heatBlocks = [
  { genes: allUpGenes, rows: allUpRows, notes: ["ALL UP"], nx: 1712, anchor: "start" },
  { genes: oldDexaGenes, rows: oldDexaRows, notes: ["OLD AND", "DEXA UP"], nx: 1711, anchor: "start" },
  { genes: oldLlcGenes, rows: oldLlcRows, notes: ["OLD AND", "LLC UP"], nx: 1711, anchor: "start" },
  { genes: dexaLlcUpGenes, rows: dexaLlcUpRows, notes: ["DEXA AND", "LLC UP"], nx: 1752, anchor: "middle" },
  { genes: dexaLlcDownGenes, rows: dexaLlcDownRows, notes: ["DEXA AND", "LLC DOWN"], nx: 1754, anchor: "middle" },
  { genes: allDownGenes, rows: allDownRows, notes: ["ALL DOWN"], nx: 1711, anchor: "start" },
];
const noteCenters = [92.6, 389, 636.6, 845.5, 1141, 1251];

function Heatmap() {
  const left = 1210.6, top = 25.7, rowH = 14.325;
  const groupX = [1210.6, 1292.6, 1374, 1458, 1542.8, 1624, 1706.7];
  const color = d3.scaleLinear<string>().domain([-7, 0, 9]).range(["#f96a72", "#ffffff", "#0a6cc2"]).clamp(true);
  const colX: number[] = [];
  const colW: number[] = [];
  heatGroupSizes.forEach((n, g) => {
    const w = (groupX[g + 1] - groupX[g]) / n;
    for (let i = 0; i < n; i++) { colX.push(groupX[g] + i * w); colW.push(w); }
  });
  let r = 0;
  const blocks: any[] = [];
  const seps: number[] = [top];
  heatBlocks.forEach((b, bi) => {
    b.rows.forEach((row, ri) => {
      const y = top + r * rowH;
      blocks.push(
        <g key={`${bi}-${ri}`}>
          <text x={1208.5} y={y + rowH / 2} textAnchor="end" dominantBaseline="central" fontSize={10.9} fill="#333">{b.genes[ri]}</text>
          {row.map((v: number | null, c: number) => (
            <rect key={c} x={colX[c]} y={y} width={colW[c] + .4} height={rowH + .4} fill={v === null ? "#808080" : color(v)} />
          ))}
        </g>
      );
      r++;
    });
    seps.push(top + r * rowH);
  });
  return (
    <g fontFamily={SANS}>
      {blocks}
      {seps.map((y, i) => <line key={i} x1={left} x2={1706.7} y1={y} y2={y} stroke="#111" strokeWidth={1.4} />)}
      {groupX.map((x, i) => <line key={i} x1={x} x2={x} y1={top} y2={seps[seps.length - 1]} stroke="#111" strokeWidth={1.2} />)}
      <text x={1196} y={19} textAnchor="middle" dominantBaseline="central" fontSize={10.5} fontWeight="bold" fill="#222">Gene</text>
      {heatGroups.map((g, i) => (
        <text key={i} x={(groupX[i] + groupX[i + 1]) / 2 - 1} y={19} textAnchor="middle" dominantBaseline="central" fontSize={10.5} fontWeight="bold" fill="#222">{g}</text>
      ))}
      {heatBlocks.map((b, i) => b.notes.map((t, j) => (
        <text key={`${i}${j}`} x={b.nx} y={noteCenters[i] + (j - (b.notes.length - 1) / 2) * 19.5} textAnchor={b.anchor as any} dominantBaseline="central" fontSize={16} fill="#222">{t}</text>
      )))}
      <defs>
        <linearGradient id="ratio" x1="0" x2="1" y1="0" y2="0">
          <stop offset="0" stopColor="#ff0000" />
          <stop offset=".5" stopColor="#ffffff" />
          <stop offset="1" stopColor="#0000ff" />
        </linearGradient>
      </defs>
      <rect x={1722} y={33.5} width={63} height={13.5} fill="url(#ratio)" />
      <text x={1752} y={11} textAnchor="middle" dominantBaseline="central" fontSize={13} fill="#333">ratio</text>
      <text x={1754} y={23.5} textAnchor="middle" dominantBaseline="central" fontSize={13} fill="#333">change</text>
      {[["0.25", 1727], ["1", 1757], ["4", 1783]].map(([t, x]) => (
        <text key={t as string} x={x as number} y={55} textAnchor="middle" dominantBaseline="central" fontSize={13} fill="#333">{t}</text>
      ))}
    </g>
  );
}

function Bars({ left, right, top, bottom, yMax, yTicks, groupStart, groupStep, offset, means, errs, dots, title, titleX, titleY, pLabels, pPos, catY, ylabelX }: any) {
  const y = d3.scaleLinear().domain([0, yMax]).range([bottom, top]);
  const gx = d3.scaleLinear().domain([0, 2]).range([groupStart, groupStart + 2 * groupStep]);
  const bw = 21;
  const xOf = (i: number) => gx(Math.floor(i / 2)) + (i % 2 === 0 ? -offset : offset);
  const spread = (arr: number[]) => {
    const tol = yMax * 0.025;
    return arr.map((v, i) => {
      const near = arr.filter(u => Math.abs(u - v) < tol).length;
      if (near < 2) return 0;
      const idx = arr.slice(0, i).filter(u => Math.abs(u - v) < tol).length;
      return near === 2 ? (idx === 0 ? -3.4 : 3.4) : (idx - 1) * 3.8;
    });
  };
  return (
    <g fontFamily={SANS}>
      <text x={titleX} y={titleY} textAnchor="middle" dominantBaseline="central" fontSize={13.5} fontStyle="italic" fill="#333">{title}</text>
      <line x1={left} x2={right} y1={top} y2={top} stroke="#777" strokeWidth={1.2} />
      <line x1={right} x2={right} y1={top} y2={bottom} stroke="#888" strokeWidth={1} />
      <line x1={left} x2={left} y1={top} y2={bottom} stroke="#666" strokeWidth={1.2} />
      <line x1={left} x2={right} y1={bottom} y2={bottom} stroke="#666" strokeWidth={1.2} />
      {yTicks.map((t: number) => (
        <g key={t}>
          <line x1={left - 4} x2={left} y1={y(t)} y2={y(t)} stroke="#666" strokeWidth={1.2} />
          <text x={left - 5.5} y={y(t)} textAnchor="end" dominantBaseline="central" fontSize={13.5} fill="#333">{yMax === 2 ? t.toFixed(1) : t}</text>
        </g>
      ))}
      {qpcrCategories.map((c: string, i: number) => (
        <g key={c}>
          <line x1={gx(i)} x2={gx(i)} y1={bottom} y2={bottom + 4} stroke="#666" strokeWidth={1.2} />
          <text x={gx(i)} y={catY} textAnchor="middle" dominantBaseline="central" fontSize={13.4} fill="#333">{c}</text>
          <text x={pPos[i][0]} y={pPos[i][1]} textAnchor="middle" dominantBaseline="central" fontSize={13.3} fill="#333">{pLabels[i]}</text>
        </g>
      ))}
      <text transform={`translate(${ylabelX},${(top + bottom) / 2}) rotate(-90)`} textAnchor="middle" dominantBaseline="central" fontSize={12.5} fill="#333">relative mRNA level</text>
      {means.map((m: number, i: number) => (
        <g key={i}>
          <path d={`M${xOf(i) - bw / 2},${bottom}V${y(m)}H${xOf(i) + bw / 2}V${bottom}`} fill="none" stroke="#999" strokeWidth={1.3} />
          <line x1={xOf(i)} x2={xOf(i)} y1={y(m - errs[i])} y2={y(m + errs[i])} stroke="#777" strokeWidth={1} />
          <line x1={xOf(i) - 4.5} x2={xOf(i) + 4.5} y1={y(m + errs[i])} y2={y(m + errs[i])} stroke="#777" strokeWidth={1} />
          <line x1={xOf(i) - 4.5} x2={xOf(i) + 4.5} y1={y(m - errs[i])} y2={y(m - errs[i])} stroke="#777" strokeWidth={1} />
          {dots[i].map((d: number, j: number) => {
            const off = spread(dots[i])[j];
            return i % 2 === 0
              ? <circle key={j} cx={xOf(i) + off} cy={y(d)} r={1.6} fill="#707070" />
              : <rect key={j} x={xOf(i) + off - 1.8} y={y(d) - 1.8} width={3.6} height={3.6} fill="#ee1111" />;
          })}
        </g>
      ))}
    </g>
  );
}

function Venn({ id, totals, maxR, dexa, aging, llc, labels }: any) {
  const r = d3.scaleSqrt().domain([0, totals.dexa]).range([0, maxR]);
  const D = { cx: dexa[0], cy: dexa[1], r: r(totals.dexa) };
  const A = { cx: aging[0], cy: aging[1], r: r(totals.aging) };
  const L = { cx: llc[0], cy: llc[1], r: r(totals.llc) };
  const stroke = "#111";
  return (
    <g fontFamily={SANS}>
      <defs>
        <clipPath id={`${id}D`}><circle {...D} /></clipPath>
        <clipPath id={`${id}A`}><circle {...A} /></clipPath>
      </defs>
      <circle {...L} fill="#ff3c3e" />
      <circle {...A} fill="#0b86fb" />
      <circle {...D} fill="#04c840" />
      <circle {...A} fill="#00ffff" clipPath={`url(#${id}D)`} />
      <circle {...L} fill="#ffff00" clipPath={`url(#${id}D)`} />
      <circle {...L} fill="#ff66ee" clipPath={`url(#${id}A)`} />
      {[D, A, L].map((c, i) => <circle key={i} {...c} fill="none" stroke={stroke} strokeWidth={1} />)}
      {labels.map((l: any, i: number) => (
        <text key={i} x={l[1]} y={l[2]} textAnchor="middle" dominantBaseline="central" fontSize={16.8} fill="#111">{l[0]}</text>
      ))}
    </g>
  );
}

const panelLetters: [string, number, number][] = [["A", 16, 16], ["B", 15, 462], ["C", 15, 878], ["D", 13, 1318], ["E", 1141, 16], ["F", 1136, 1283]];

export default function App() {
  return (
    <svg width={1800} height={1724} viewBox="0 0 1800 1724" style={{ position: "absolute", left: 0, top: 0, background: "#fff" }}>
      {panelLetters.map(([t, x, y]) => (
        <text key={t} x={x} y={y} textAnchor="middle" dominantBaseline="central" fontSize={29} fontWeight="bold" fontFamily={SANS} fill="#000">{t}</text>
      ))}
      <text x={709} y={10} textAnchor="middle" dominantBaseline="central" fontSize={21} fontFamily={SANS} fill="#111">GSEA</text>

      <Volcano left={52} right={308} top={87.7} bottom={342} xMax={8} color="#0abf0a" title="Dexamethasone" titleX={192} titleY={73} xTitleX={180} xTitle="Dexa vs. Ctrl" core={dexaCore} dots={[...dexaOutliers, ...dexaLeft, ...dexaRight, ...dexaColumn]} />
      <Volcano left={52} right={308} top={510.7} bottom={765.7} xMax={6} color="#ff3c40" title="LLC" titleX={180} titleY={495} xTitleX={181} xTitle="LLC vs. Ctrl" core={llcCore} dots={[...llcOutliers, ...llcLeft, ...llcRight]} />
      <Volcano left={52} right={308} top={922.7} bottom={1177.7} xMax={6} color="#1796b0" title="Aging" titleX={180} titleY={907} xTitleX={181} xTitle="Old vs. Ctrl" core={oldCore} dots={[...oldOutliers, ...oldFringe]} />

      <Gsea left={322} right={1100} top={27} bottom={408} domain={[-4, 2.5]} ticks={[-4,-3.5,-3,-2.5,-2,-1.5,-1,-.5,0,.5,1,1.5,2,2.5]} tickLabels={["4.0","-3.5","-3.0","-2.5","-2.0","-1.5","-1.0","-0.5","0.0","0.5","1.0","1.5","2.0","2.5"]} barTop={32.2} barBottom={407} upTerms={dexaUpTerms} upNES={dexaUpNES} downTerms={dexaDownTerms} downNES={dexaDownNES} sig={dexaSignificant} legendX={330} legendY={40} upX={343} upY={112} downY={318} />
      <Gsea left={322} right={1098} top={447} bottom={829} domain={[-2, 2.5]} ticks={[-2,-1.5,-1,-.5,0,.5,1,1.5,2,2.5]} tickLabels={["2.0","-1.5","-1.0","-0.5","0.0","0.5","1.0","1.5","2.0","2.5"]} barTop={453} barBottom={826.5} upTerms={llcUpTerms} upNES={llcUpNES} downTerms={llcDownTerms} downNES={llcDownNES} sig={llcSignificant} legendX={329} legendY={455} upX={348} upY={530} downY={731.7} />
      <Gsea left={320.7} right={1103.6} top={866.7} bottom={1248} domain={[-3.5, 2.092]} ticks={[-3.5,-3,-2.5,-2,-1.5,-1,-.5,0,.5,1,1.5,2]} tickLabels={["3.5","-3.0","-2.5","-2.0","-1.5","-1.0","-0.5","0.0","0.5","1.0","1.5","2.0"]} barTop={875.7} barBottom={1247} upTerms={agingUpTerms} upNES={agingUpNES} downTerms={agingDownTerms} downNES={agingDownNES} sig={agingSignificant} legendX={325} legendY={877} upX={348} upY={960} downY={1161.7} />

      <text x={207.7} y={1379} textAnchor="middle" dominantBaseline="central" fontSize={19.2} fontWeight="bold" fontFamily={SANS} fill="#111">UP-REGULATED</text>
      <Venn id="up" totals={vennUpTotals} maxR={148.5} dexa={[278, 1566]} aging={[412, 1419.7]} llc={[453, 1543.5]} labels={[["Aging",414,1410],["263",414,1429],["34",365.6,1468.7],["5",481,1478.7],["LLC",456,1535.7],["124",456,1555.7],["30",411,1550],["Dexamethasone",277,1556.7],["942",277,1576]]} />
      <text x={820} y={1379} textAnchor="middle" dominantBaseline="central" fontSize={19.2} fontWeight="bold" fontFamily={SANS} fill="#111">DOWN-REGULATED</text>
      <Venn id="dn" totals={vennDownTotals} maxR={133.3} dexa={[715.8, 1569.3]} aging={[832, 1456.3]} llc={[915.7, 1566]} labels={[["Aging",827,1412],["9",831,1455],["Dexamethasone",717,1568],["203",717,1588],["16",826.7,1566],["LLC",916,1564],["131",916,1584]]} />

      <Heatmap />

      <Bars left={1188} right={1432} top={1303} bottom={1465} yMax={4} yTicks={[0,1,2,3,4]} groupStart={1229.6} groupStep={81} offset={15.2} means={fbxoMeans} errs={fbxoErr} dots={fbxoDots} title="Fbxo32 mRNA" titleX={1311} titleY={1289} pLabels={fbxoP} pPos={[[1230,1380],[1315,1320],[1392,1337]]} catY={1479} ylabelX={1159} />
      <Bars left={1488.6} right={1734} top={1304} bottom={1465.7} yMax={4} yTicks={[0,1,2,3,4]} groupStart={1532} groupStep={80.8} offset={15.2} means={trimMeans} errs={trimErr} dots={trimDots} title="Trim63 mRNA" titleX={1613} titleY={1289} pLabels={trimP} pPos={[[1530,1385],[1614,1315],[1693,1357]]} catY={1479.5} ylabelX={1463} />
      <Bars left={1187} right={1431} top={1534} bottom={1695.7} yMax={4} yTicks={[0,1,2,3,4]} groupStart={1228} groupStep={80.9} offset={15.2} means={ctslMeans} errs={ctslErr} dots={ctslDots} title="Ctsl mRNA" titleX={1309.5} titleY={1519} pLabels={ctslP} pPos={[[1229,1615],[1313,1561],[1392,1616]]} catY={1710} ylabelX={1161} />
      <Bars left={1487} right={1740} top={1533} bottom={1699} yMax={2} yTicks={[0,.5,1,1.5,2]} groupStart={1532} groupStep={83} offset={15.4} means={psmdMeans} errs={psmdErr} dots={psmdDots} title="Psmd11 mRNA" titleX={1615} titleY={1506} pLabels={psmdP} pPos={[[1531,1586],[1617,1524],[1697,1557]]} catY={1713.7} ylabelX={1453} />

      <circle cx={1738.4} cy={1485} r={3.5} fill="#707070" />
      <text x={1747.5} y={1485} dominantBaseline="central" fontSize={14} fontFamily={SANS} fill="#333">Control</text>
      <rect x={1735} y={1501.5} width={7} height={7} fill="#ee1111" />
      <text x={1747.5} y={1505.5} dominantBaseline="central" fontSize={14} fontFamily={SANS} fill="#333">Atrophy</text>
    </svg>
  );
}
